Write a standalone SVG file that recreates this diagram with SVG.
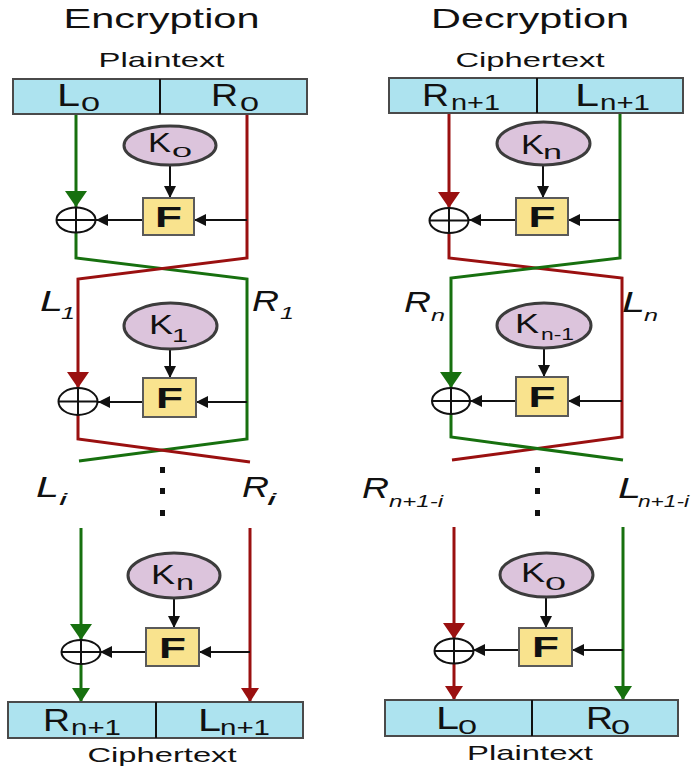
<svg xmlns="http://www.w3.org/2000/svg" width="691" height="770" viewBox="0 0 691 770">
<defs>
<style>
.t{font-family:"Liberation Sans",Arial,sans-serif;fill:#111}
.it{font-style:italic}
.b{font-weight:bold}
.box{fill:#ade3ef;stroke:#4a4a4a;stroke-width:2}
.key{fill:#dcc4dc;stroke:#3c3c3c;stroke-width:3}
.fb{fill:#f9e38e;stroke:#5a5a5a;stroke-width:2}
.xor{fill:#fff;stroke:#111;stroke-width:2}
.pl{stroke:#111;stroke-width:2}
.g{stroke:#17700f;stroke-width:3;fill:none}
.r{stroke:#9a1010;stroke-width:3;fill:none}
.k{stroke:#111;stroke-width:2;fill:none;marker-end:url(#ak)}
</style>
<marker id="ak" markerUnits="userSpaceOnUse" markerWidth="12" markerHeight="12" refX="12" refY="6" orient="auto"><path d="M0,0 L12,6 L0,12 z" fill="#111"/></marker>
<marker id="agB" markerUnits="userSpaceOnUse" markerWidth="16" markerHeight="22" refX="16" refY="11" orient="auto"><path d="M0,0 L16,11 L0,22 z" fill="#17700f"/></marker>
<marker id="arB" markerUnits="userSpaceOnUse" markerWidth="16" markerHeight="22" refX="16" refY="11" orient="auto"><path d="M0,0 L16,11 L0,22 z" fill="#9a1010"/></marker>
<marker id="agS" markerUnits="userSpaceOnUse" markerWidth="14" markerHeight="18" refX="14" refY="9" orient="auto"><path d="M0,0 L14,9 L0,18 z" fill="#17700f"/></marker>
<marker id="arS" markerUnits="userSpaceOnUse" markerWidth="14" markerHeight="18" refX="14" refY="9" orient="auto"><path d="M0,0 L14,9 L0,18 z" fill="#9a1010"/></marker>
</defs>
<rect width="691" height="770" fill="#fff"/>

<g id="titles">
<text class="t" x="161.5" y="28" font-size="28" text-anchor="middle" textLength="196" lengthAdjust="spacingAndGlyphs">Encryption</text>
<text class="t" x="530" y="28" font-size="28" text-anchor="middle" textLength="198" lengthAdjust="spacingAndGlyphs">Decryption</text>
<text class="t" x="161.5" y="67" font-size="21" text-anchor="middle" textLength="126" lengthAdjust="spacingAndGlyphs">Plaintext</text>
<text class="t" x="530" y="67" font-size="21" text-anchor="middle" textLength="149" lengthAdjust="spacingAndGlyphs">Ciphertext</text>
<text class="t" x="162" y="762" font-size="21" text-anchor="middle" textLength="149" lengthAdjust="spacingAndGlyphs">Ciphertext</text>
<text class="t" x="530" y="760" font-size="21" text-anchor="middle" textLength="126" lengthAdjust="spacingAndGlyphs">Plaintext</text>
</g>

<g id="connectors">
<!-- encryption -->
<path class="g" d="M76,115 V207" marker-end="url(#agB)"/>
<path class="g" d="M76,233 V258 L247,279 V439 L79,461"/>
<path class="r" d="M247,115 V258 L78,279 V388" marker-end="url(#arB)"/>
<path class="r" d="M78,415 V439 L250,462"/>
<path class="g" d="M81,528 V640" marker-end="url(#agB)"/>
<path class="g" d="M81,664 V702" marker-end="url(#agS)"/>
<path class="r" d="M250,528 V702" marker-end="url(#arS)"/>
<path class="k" d="M170,165 V198"/>
<path class="k" d="M247,220 H194"/>
<path class="k" d="M143,220 H96"/>
<path class="k" d="M170,349 V378"/>
<path class="k" d="M247,402 H196"/>
<path class="k" d="M143,402 H98"/>
<path class="k" d="M174,598 V628"/>
<path class="k" d="M250,652 H199"/>
<path class="k" d="M146,652 H100"/>
<!-- decryption -->
<path class="r" d="M449,114 V208" marker-end="url(#arB)"/>
<path class="r" d="M449,233 V258 L622,278 V437 L452,460"/>
<path class="g" d="M620,114 V258 L451,278 V388" marker-end="url(#agB)"/>
<path class="g" d="M451,414 V437 L623,460"/>
<path class="r" d="M454,527 V639" marker-end="url(#arB)"/>
<path class="r" d="M454,664 V700" marker-end="url(#arS)"/>
<path class="g" d="M623,527 V700" marker-end="url(#agS)"/>
<path class="k" d="M543,165 V198"/>
<path class="k" d="M620,220 H568"/>
<path class="k" d="M516,220 H469"/>
<path class="k" d="M544,348 V377"/>
<path class="k" d="M622,401 H568"/>
<path class="k" d="M516,401 H470"/>
<path class="k" d="M546,597 V628"/>
<path class="k" d="M623,650 H572"/>
<path class="k" d="M519,650 H473"/>
</g>

<g id="dots" fill="#111">
<rect x="160" y="467" width="5" height="6"/><rect x="160" y="488" width="5" height="6"/><rect x="160" y="510" width="5" height="6"/>
<rect x="535" y="467" width="5" height="6"/><rect x="535" y="488" width="5" height="6"/><rect x="535" y="510" width="5" height="6"/>
</g>

<!-- Encryption boxes -->
<g id="enc-plain">
<rect class="box" x="13" y="79" width="294" height="35"/>
<line class="pl" x1="160" y1="79" x2="160" y2="114" stroke="#4a4a4a"/>
<text class="t" x="57" y="106" font-size="31" textLength="23" lengthAdjust="spacingAndGlyphs">L</text>
<text class="t" x="81" y="111" font-size="20" textLength="19" lengthAdjust="spacingAndGlyphs">0</text>
<text class="t" x="211" y="106" font-size="31" textLength="27" lengthAdjust="spacingAndGlyphs">R</text>
<text class="t" x="240" y="111" font-size="20" textLength="19" lengthAdjust="spacingAndGlyphs">0</text>
</g>
<g id="enc-cipher">
<rect class="box" x="8" y="702" width="295" height="36"/>
<line class="pl" x1="156" y1="702" x2="156" y2="738" stroke="#4a4a4a"/>
<text class="t" x="43" y="731" font-size="31" textLength="27" lengthAdjust="spacingAndGlyphs">R</text>
<text class="t" x="71" y="735" font-size="22" textLength="50" lengthAdjust="spacingAndGlyphs">n+1</text>
<text class="t" x="198" y="731" font-size="31" textLength="23" lengthAdjust="spacingAndGlyphs">L</text>
<text class="t" x="220" y="735" font-size="22" textLength="50" lengthAdjust="spacingAndGlyphs">n+1</text>
</g>

<!-- Decryption boxes -->
<g id="dec-cipher">
<rect class="box" x="389" y="78" width="294" height="35"/>
<line class="pl" x1="537" y1="78" x2="537" y2="113" stroke="#4a4a4a"/>
<text class="t" x="422" y="106" font-size="31" textLength="27" lengthAdjust="spacingAndGlyphs">R</text>
<text class="t" x="451" y="110" font-size="22" textLength="49" lengthAdjust="spacingAndGlyphs">n+1</text>
<text class="t" x="575" y="106" font-size="31" textLength="24" lengthAdjust="spacingAndGlyphs">L</text>
<text class="t" x="600" y="110" font-size="22" textLength="50" lengthAdjust="spacingAndGlyphs">n+1</text>
</g>
<g id="dec-plain">
<rect class="box" x="385" y="700" width="293" height="36"/>
<line class="pl" x1="532" y1="700" x2="532" y2="736" stroke="#4a4a4a"/>
<text class="t" x="436" y="729" font-size="31" textLength="23" lengthAdjust="spacingAndGlyphs">L</text>
<text class="t" x="458" y="734" font-size="20" textLength="19" lengthAdjust="spacingAndGlyphs">0</text>
<text class="t" x="586" y="729" font-size="31" textLength="27" lengthAdjust="spacingAndGlyphs">R</text>
<text class="t" x="611" y="734" font-size="20" textLength="19" lengthAdjust="spacingAndGlyphs">0</text>
</g>

<!-- Keys -->
<g id="key-enc-0">
<ellipse class="key" cx="170" cy="145.5" rx="46" ry="19.5"/>
<text class="t" x="148" y="152" font-size="27" textLength="23" lengthAdjust="spacingAndGlyphs">K</text>
<text class="t" x="172" y="157" font-size="15" textLength="20" lengthAdjust="spacingAndGlyphs">0</text>
</g>
<g id="key-enc-1">
<ellipse class="key" cx="170.5" cy="326" rx="46.5" ry="23"/>
<text class="t" x="149" y="334" font-size="27" textLength="24" lengthAdjust="spacingAndGlyphs">K</text>
<text class="t" x="172" y="342" font-size="19" textLength="16" lengthAdjust="spacingAndGlyphs">1</text>
</g>
<g id="key-enc-n">
<ellipse class="key" cx="174" cy="575.5" rx="46" ry="22.5"/>
<text class="t" x="151" y="584" font-size="27" textLength="24" lengthAdjust="spacingAndGlyphs">K</text>
<text class="t" x="176" y="590" font-size="22" textLength="18" lengthAdjust="spacingAndGlyphs">n</text>
</g>
<g id="key-dec-n">
<ellipse class="key" cx="543.5" cy="143.5" rx="46.5" ry="21.5"/>
<text class="t" x="521" y="154" font-size="27" textLength="23" lengthAdjust="spacingAndGlyphs">K</text>
<text class="t" x="543" y="159" font-size="21" textLength="19" lengthAdjust="spacingAndGlyphs">n</text>
</g>
<g id="key-dec-n-1">
<ellipse class="key" cx="544" cy="325.5" rx="47" ry="22.5"/>
<text class="t" x="515" y="333" font-size="27" textLength="24" lengthAdjust="spacingAndGlyphs">K</text>
<text class="t" x="541" y="340" font-size="17" textLength="33" lengthAdjust="spacingAndGlyphs">n-1</text>
</g>
<g id="key-dec-0">
<ellipse class="key" cx="546.5" cy="575" rx="46.5" ry="22"/>
<text class="t" x="521" y="582" font-size="27" textLength="24" lengthAdjust="spacingAndGlyphs">K</text>
<text class="t" x="545" y="590" font-size="18" textLength="21" lengthAdjust="spacingAndGlyphs">0</text>
</g>

<!-- F boxes -->
<g id="f-enc-1"><rect class="fb" x="143" y="198" width="51" height="37"/><text class="t b" x="168.5" y="227" font-size="29" text-anchor="middle" textLength="27" lengthAdjust="spacingAndGlyphs">F</text></g>
<g id="f-enc-2"><rect class="fb" x="143" y="378" width="53" height="39"/><text class="t b" x="169.5" y="408" font-size="29" text-anchor="middle" textLength="27" lengthAdjust="spacingAndGlyphs">F</text></g>
<g id="f-enc-3"><rect class="fb" x="146" y="628" width="53" height="38"/><text class="t b" x="172.5" y="658" font-size="29" text-anchor="middle" textLength="27" lengthAdjust="spacingAndGlyphs">F</text></g>
<g id="f-dec-1"><rect class="fb" x="516" y="198" width="52" height="37"/><text class="t b" x="542" y="227" font-size="29" text-anchor="middle" textLength="27" lengthAdjust="spacingAndGlyphs">F</text></g>
<g id="f-dec-2"><rect class="fb" x="516" y="377" width="52" height="39"/><text class="t b" x="542" y="407" font-size="29" text-anchor="middle" textLength="27" lengthAdjust="spacingAndGlyphs">F</text></g>
<g id="f-dec-3"><rect class="fb" x="519" y="628" width="53" height="38"/><text class="t b" x="545.5" y="657" font-size="29" text-anchor="middle" textLength="27" lengthAdjust="spacingAndGlyphs">F</text></g>

<!-- XORs -->
<g id="xor-enc-1"><ellipse class="xor" cx="76" cy="220" rx="19.5" ry="12.5"/><path class="pl" d="M56.5,220 H95.5 M76,207.5 V232.5"/></g>
<g id="xor-enc-2"><ellipse class="xor" cx="78" cy="401.5" rx="19.5" ry="13.5"/><path class="pl" d="M58.5,401.5 H97.5 M78,388 V415"/></g>
<g id="xor-enc-3"><ellipse class="xor" cx="81" cy="652" rx="19.5" ry="12"/><path class="pl" d="M61.5,652 H100.5 M81,640 V664"/></g>
<g id="xor-dec-1"><ellipse class="xor" cx="449" cy="220.5" rx="19.5" ry="12.5"/><path class="pl" d="M429.5,220.5 H468.5 M449,208 V233"/></g>
<g id="xor-dec-2"><ellipse class="xor" cx="451" cy="401" rx="19" ry="13"/><path class="pl" d="M432,401 H470 M451,388 V414"/></g>
<g id="xor-dec-3"><ellipse class="xor" cx="454" cy="651" rx="19.5" ry="12.5"/><path class="pl" d="M434.5,651 H473.5 M454,638.5 V663.5"/></g>

<!-- Italic half labels -->
<g id="labels">
<text class="t it" x="40" y="311" font-size="29" textLength="23" lengthAdjust="spacingAndGlyphs">L</text>
<text class="t it" x="61" y="319" font-size="16" textLength="14" lengthAdjust="spacingAndGlyphs">1</text>
<text class="t it" x="252" y="311" font-size="29" textLength="27" lengthAdjust="spacingAndGlyphs">R</text>
<text class="t it" x="280" y="319" font-size="16" textLength="14" lengthAdjust="spacingAndGlyphs">1</text>
<text class="t it" x="36" y="497" font-size="29" textLength="23" lengthAdjust="spacingAndGlyphs">L</text>
<text class="t it" x="59" y="505" font-size="17" textLength="8" lengthAdjust="spacingAndGlyphs">i</text>
<text class="t it" x="242" y="497" font-size="29" textLength="27" lengthAdjust="spacingAndGlyphs">R</text>
<text class="t it" x="267" y="505" font-size="17" textLength="9" lengthAdjust="spacingAndGlyphs">i</text>
<text class="t it" x="404" y="312" font-size="29" textLength="27" lengthAdjust="spacingAndGlyphs">R</text>
<text class="t it" x="431" y="321" font-size="17" textLength="14" lengthAdjust="spacingAndGlyphs">n</text>
<text class="t it" x="622" y="312" font-size="29" textLength="23" lengthAdjust="spacingAndGlyphs">L</text>
<text class="t it" x="644" y="321" font-size="17" textLength="14" lengthAdjust="spacingAndGlyphs">n</text>
<text class="t it" x="362" y="498" font-size="29" textLength="27" lengthAdjust="spacingAndGlyphs">R</text>
<text class="t it" x="389" y="507" font-size="17" textLength="54" lengthAdjust="spacingAndGlyphs">n+1-i</text>
<text class="t it" x="618" y="498" font-size="29" textLength="23" lengthAdjust="spacingAndGlyphs">L</text>
<text class="t it" x="638" y="507" font-size="17" textLength="51" lengthAdjust="spacingAndGlyphs">n+1-i</text>
</g>
</svg>
